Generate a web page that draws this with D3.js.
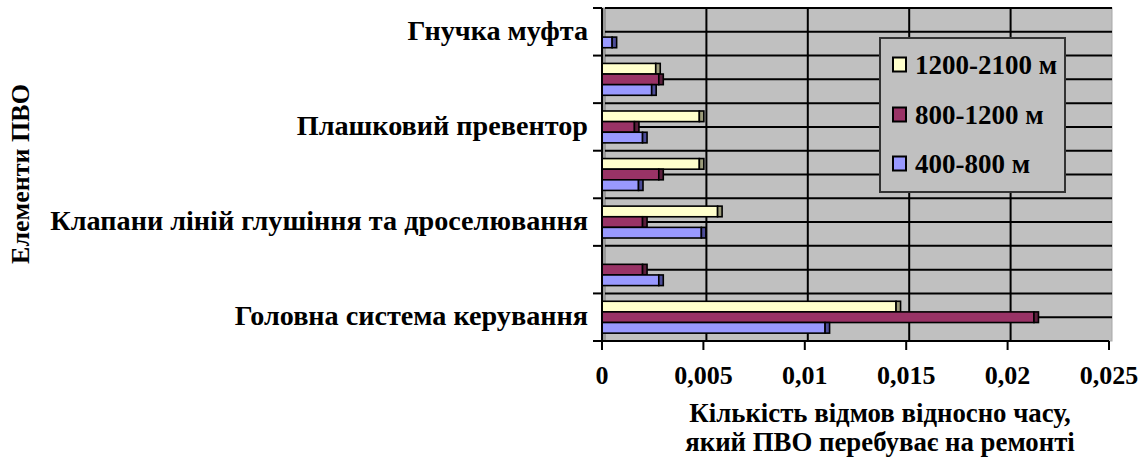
<!DOCTYPE html>
<html>
<head>
<meta charset="utf-8">
<script src="https://cdn.jsdelivr.net/npm/d3@7/dist/d3.min.js"></script>
<style>
  html, body { margin: 0; padding: 0; background: #fff; }
  svg text { font-family: "Liberation Serif", "Times New Roman", serif; font-weight: bold; fill: #000; }
</style>
</head>
<body>
<svg id="chart" width="1145" height="461"></svg>
<script>
// Categories listed bottom-to-top; every second label is left blank on the axis
const categories = [
  "Головна система керування",
  "",
  "Клапани ліній глушіння та дроселювання",
  "",
  "Плашковий превентор",
  "",
  "Гнучка муфта"
];
const seriesNames = ["1200-2100 м", "800-1200 м", "400-800 м"];
const depth1200 = [0.0145, 0, 0.0057, 0.0048, 0.0048, 0.00265, 0];
const depth800  = [0.0213, 0.002, 0.002, 0.0028, 0.0016, 0.0028, 0];
const depth400  = [0.011, 0.0028, 0.0049, 0.0018, 0.002, 0.00245, 0.0005];
const xTicks = [0, 0.005, 0.01, 0.015, 0.02, 0.025];
const yTitle = "Елементи ПВО";
const xTitle = ["Кількість відмов відносно часу,", "який ПВО перебуває на ремонті"];

const seriesValues = [depth1200, depth800, depth400];
const faceColors = ["#FFFFCC", "#993366", "#9999FF"];
const capColors = ["#9C9C7A", "#5C1F3D", "#4D4D99"];

const svg = d3.select("#chart");
const wallDepth = 3;      // horizontal offset of the back wall
const capW = 4.5;         // width of the bar end face

const x = d3.scaleLinear().domain([0, 0.025]).range([602, 1109]);
const y = d3.scaleBand().domain(d3.range(categories.length)).range([341, 8]).padding(0);
const bw = y.bandwidth();
const yInner = d3.scaleBand().domain(d3.range(seriesNames.length)).range([0.165 * bw, 0.835 * bw]);

const fmt = d3.formatLocale({ decimal: ",", thousands: " ", grouping: [3], currency: ["", ""] }).format("~g");

const plotTop = y.range()[1], plotBottom = y.range()[0];
const plotLeft = x.range()[0], plotRight = x.range()[1];

// back wall
svg.append("rect")
  .attr("x", plotLeft).attr("y", plotTop)
  .attr("width", plotRight + wallDepth - plotLeft).attr("height", plotBottom - plotTop)
  .attr("fill", "#C0C0C0")
  .attr("stroke", "#A8A8A8").attr("stroke-width", 1);

// side wall strip
svg.append("rect")
  .attr("x", plotLeft + 1).attr("y", plotTop)
  .attr("width", wallDepth).attr("height", plotBottom - plotTop)
  .attr("fill", "#9A9A9A");

// horizontal gridlines at category boundaries and band centres
const hLines = [];
d3.range(categories.length).forEach(i => { hLines.push(y(i)); hLines.push(y(i) + bw / 2); });
hLines.push(plotTop);
svg.append("g").selectAll("line").data(hLines).join("line")
  .attr("x1", plotLeft + wallDepth).attr("x2", plotRight + wallDepth)
  .attr("y1", d => d).attr("y2", d => d)
  .attr("stroke", "#000").attr("stroke-width", 2);

// vertical gridlines on the back wall
svg.append("g").selectAll("line").data(xTicks.slice(1, -1)).join("line")
  .attr("x1", d => x(d) + wallDepth).attr("x2", d => x(d) + wallDepth)
  .attr("y1", plotTop).attr("y2", plotBottom)
  .attr("stroke", "#000").attr("stroke-width", 2);

// bars: front face plus a darker end face
const groups = svg.append("g").selectAll("g").data(categories).join("g")
  .attr("transform", (d, i) => `translate(0,${y(i)})`);

groups.each(function (d, i) {
  const g = d3.select(this);
  seriesNames.forEach((name, s) => {
    const v = seriesValues[s][i];
    if (!(v > 0)) return;
    g.append("rect")
      .attr("x", x(0)).attr("y", yInner(s))
      .attr("width", x(v) - x(0)).attr("height", yInner.bandwidth())
      .attr("fill", faceColors[s])
      .attr("stroke", "#000").attr("stroke-width", 1.6);
    g.append("rect")
      .attr("x", x(v)).attr("y", yInner(s))
      .attr("width", capW).attr("height", yInner.bandwidth())
      .attr("fill", capColors[s])
      .attr("stroke", "#000").attr("stroke-width", 1.6);
  });
});

// category axis
const yAxis = svg.append("g");
yAxis.append("line")
  .attr("x1", plotLeft).attr("x2", plotLeft).attr("y1", plotTop).attr("y2", plotBottom)
  .attr("stroke", "#000").attr("stroke-width", 2);
const bounds = d3.range(categories.length).map(i => y(i) + bw).concat([plotTop]);
yAxis.selectAll("line.tick").data(bounds).join("line")
  .attr("class", "tick")
  .attr("x1", plotLeft - 9).attr("x2", plotLeft)
  .attr("y1", d => d).attr("y2", d => d)
  .attr("stroke", "#000").attr("stroke-width", 2);
yAxis.selectAll("text").data(categories).join("text")
  .attr("x", 588)
  .attr("y", (d, i) => y(i) + bw / 2 + 8)
  .attr("text-anchor", "end")
  .attr("font-size", 28.2)
  .text(d => d);

// value axis
const xAxis = svg.append("g");
xAxis.append("line")
  .attr("x1", plotLeft).attr("x2", plotRight).attr("y1", plotBottom).attr("y2", plotBottom)
  .attr("stroke", "#000").attr("stroke-width", 2);
xAxis.selectAll("line.tick").data(xTicks).join("line")
  .attr("class", "tick")
  .attr("x1", d => x(d)).attr("x2", d => x(d))
  .attr("y1", plotBottom).attr("y2", plotBottom + 9)
  .attr("stroke", "#000").attr("stroke-width", 2);
xAxis.selectAll("text").data(xTicks).join("text")
  .attr("x", d => x(d)).attr("y", 384)
  .attr("text-anchor", "middle")
  .attr("font-size", 26)
  .text(d => fmt(d));

// axis titles
svg.append("text")
  .attr("transform", "translate(29,174) rotate(-90)")
  .attr("text-anchor", "middle")
  .attr("font-size", 26)
  .text(yTitle);
svg.append("g").selectAll("text").data(xTitle).join("text")
  .attr("x", 880).attr("y", (d, i) => 422 + i * 28.5)
  .attr("text-anchor", "middle")
  .attr("font-size", 26.8)
  .text(d => d);

// legend
const legend = svg.append("g");
legend.append("rect")
  .attr("x", 880).attr("y", 38).attr("width", 185).attr("height", 154)
  .attr("fill", "#C0C0C0").attr("stroke", "#333").attr("stroke-width", 2);
const legendRows = [64.5, 114.5, 163.5];
seriesNames.forEach((name, s) => {
  legend.append("rect")
    .attr("x", 893).attr("y", legendRows[s] - 7).attr("width", 13).attr("height", 14)
    .attr("fill", faceColors[s]).attr("stroke", "#000").attr("stroke-width", 2);
  legend.append("text")
    .attr("x", 915).attr("y", legendRows[s] + 9)
    .attr("font-size", 27)
    .text(name);
});
</script>
</body>
</html>
